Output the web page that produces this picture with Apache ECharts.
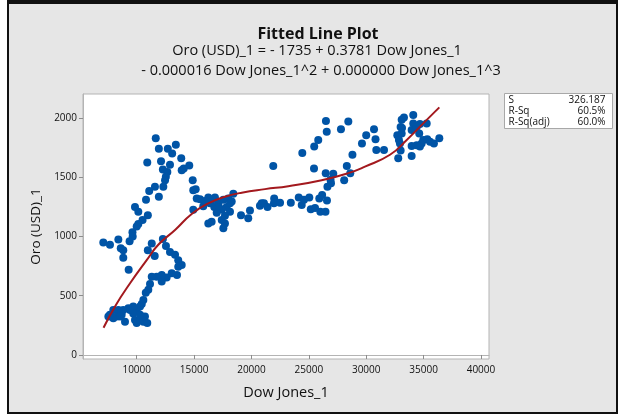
<!DOCTYPE html>
<html>
<head>
<meta charset="utf-8">
<title>Fitted Line Plot</title>
<script src="https://cdn.jsdelivr.net/npm/echarts@6/dist/echarts.min.js"></script>
<style>
  html, body { margin: 0; padding: 0; background: #fff; }
  #chart { width: 622px; height: 418px; }
</style>
</head>
<body>
<div id="chart"></div>
<script>
  // observed points: [Dow Jones_1, Oro (USD)_1]
  const points = [
    [11660, 1830], [11930, 1740], [12710, 1740], [13410, 1775], [13090, 1700], [13880, 1660],
    [14580, 1600], [14100, 1575], [10920, 1625], [12120, 1635], [12280, 1565], [12670, 1545],
    [12900, 1605], [12540, 1505], [12470, 1475], [14880, 1475], [14930, 1390], [15230, 1320],
    [12320, 1420], [11590, 1420], [11090, 1385], [11930, 1335], [10810, 1310], [9850, 1250],
    [10140, 1210], [10970, 1180], [10510, 1140], [10140, 1105], [10000, 1085], [9630, 1035],
    [9380, 960], [9650, 1000], [7090, 950], [7670, 930], [8400, 975], [8610, 900],
    [8830, 885], [8830, 820], [9300, 720], [12280, 980], [12550, 920], [11310, 940],
    [10970, 885], [11570, 835], [12900, 870], [13340, 845], [13620, 800], [13920, 760],
    [13620, 745], [13510, 675], [13050, 690], [12610, 655], [12180, 620], [12180, 675],
    [11740, 660], [11310, 660], [11160, 600], [11010, 550], [10790, 525], [10580, 465],
    [10440, 430], [10290, 410], [10000, 380], [9700, 410], [9270, 395], [8830, 380],
    [8400, 380], [7960, 380], [7670, 340], [8260, 325], [8690, 340], [8980, 280],
    [9700, 350], [9850, 295], [10000, 270], [10290, 295], [10580, 280], [10920, 270],
    [10720, 325], [10290, 340], [7530, 325], [7960, 310], [8550, 325], [9420, 380],
    [13920, 1560], [15140, 1400], [15520, 1315], [16240, 1330], [16820, 1330], [15800, 1255],
    [14930, 1225], [16390, 1280], [16760, 1250], [17110, 1280], [17550, 1310], [17980, 1320],
    [18420, 1360], [18280, 1295], [17840, 1250], [17410, 1225], [18130, 1210], [16970, 1200],
    [17690, 1175], [16530, 1125], [16240, 1110], [17690, 1110], [17550, 1070], [19090, 1180],
    [19870, 1220], [19720, 1155], [20890, 1280], [17410, 1140], [18130, 1280], [15950, 1300],
    [16560, 1310], [17170, 1250],
    [26490, 1975], [28440, 1970], [26560, 1885], [27800, 1905], [30680, 1905], [30000, 1855],
    [30810, 1820], [25820, 1815], [25470, 1760], [29630, 1785], [30880, 1730], [24430, 1705],
    [28800, 1690], [21900, 1595], [25450, 1575], [28310, 1595], [26470, 1535], [27130, 1530],
    [28610, 1535], [26890, 1480], [28080, 1475], [26930, 1450], [26620, 1420],
    [20740, 1260], [21090, 1280], [21400, 1250], [21980, 1320], [21960, 1280], [22490, 1285],
    [23430, 1285], [24120, 1330], [24380, 1265], [24580, 1310], [25040, 1330], [25170, 1230],
    [25540, 1240], [25910, 1320], [26160, 1350], [26580, 1305], [26000, 1210], [26450, 1210],
    [31550, 1730], [32790, 1660], [33000, 1725], [32940, 1785], [32710, 1855], [33090, 1870],
    [33000, 1925], [33090, 1985], [33290, 2005], [34100, 2025], [34100, 1955], [33960, 1900],
    [34400, 1925], [34680, 1950], [35270, 1955], [34620, 1870], [33960, 1765], [33960, 1680],
    [34400, 1770], [34830, 1785], [34970, 1815], [35320, 1820], [35560, 1800], [35900, 1785],
    [36370, 1830], [34680, 1760], [32850, 1815], [33120, 1915]
  ]

  // fitted cubic
  const fitted = [
    [7110, 230], [8110, 410], [9420, 605], [10870, 800], [11880, 930], [13340, 1055],
    [14790, 1190], [16240, 1280], [17690, 1335], [19150, 1370], [21180, 1400], [23210, 1425],
    [26120, 1475], [28440, 1535], [29890, 1590], [32070, 1690], [33530, 1815], [34970, 1955],
    [36370, 2090]
  ]

  const xTicks = [10000, 15000, 20000, 25000, 30000, 35000, 40000]
  const yTicks = [0, 500, 1000, 1500, 2000]

  const titleLines = [
    'Fitted Line Plot',
    'Oro (USD)_1 = - 1735 + 0.3781 Dow Jones_1',
    '- 0.000016 Dow Jones_1^2 + 0.000000 Dow Jones_1^3'
  ]
  const statNames = ['S', 'R-Sq', 'R-Sq(adj)']
  const statValues = ['326.187', '60.5%', '60.0%']

  const font = '"Open Sans", "Noto Sans", sans-serif'

  const chart = echarts.init(document.getElementById('chart'))

  const statsGroup = {
    type: 'group',
    left: 504,
    top: 93,
    children: [
      {
        type: 'rect',
        shape: { x: 0, y: 0, width: 108, height: 35 },
        style: { fill: '#fff', stroke: '#a8a8a8', lineWidth: 1 }
      }
    ]
  }
  statNames.forEach((name, i) => {
    statsGroup.children.push({
      type: 'text',
      x: 4,
      y: 7 + i * 11,
      style: { text: name, font: '10px ' + font, fill: '#111', verticalAlign: 'middle' }
    })
    statsGroup.children.push({
      type: 'text',
      x: 101,
      y: 7 + i * 11,
      style: { text: statValues[i], font: '10px ' + font, fill: '#111', align: 'right', verticalAlign: 'middle' }
    })
  })

  const option = {
    animation: false,
    backgroundColor: '#fff',
    graphic: [
      {
        type: 'rect',
        z: -10,
        shape: { x: 8, y: 3, width: 609, height: 410 },
        style: { fill: '#e6e6e6', stroke: '#111', lineWidth: 2 }
      },
      {
        type: 'rect',
        z: -9,
        shape: { x: 7, y: 0, width: 611, height: 4 },
        style: { fill: '#111' }
      },
      {
        type: 'text',
        x: 318,
        y: 34,
        style: { text: titleLines[0], font: 'bold 16px ' + font, fill: '#111', align: 'center', verticalAlign: 'middle' }
      },
      {
        type: 'text',
        x: 317,
        y: 51,
        style: { text: titleLines[1], font: '14.5px ' + font, fill: '#111', align: 'center', verticalAlign: 'middle' }
      },
      {
        type: 'text',
        x: 321,
        y: 71,
        style: { text: titleLines[2], font: '14.5px ' + font, fill: '#111', align: 'center', verticalAlign: 'middle' }
      },
      statsGroup
    ],
    grid: {
      left: 83,
      top: 94,
      width: 406,
      height: 265,
      show: true,
      backgroundColor: '#fff',
      borderColor: '#b4b4b4',
      borderWidth: 1
    },
    xAxis: {
      type: 'value',
      min: 5320,
      max: 40700,
      name: 'Dow Jones_1',
      nameLocation: 'middle',
      nameGap: 26,
      nameTextStyle: { fontFamily: font, fontSize: 14.5, color: '#111' },
      axisLine: { show: true, lineStyle: { color: '#b4b4b4' } },
      axisTick: { show: true, customValues: xTicks, length: 4, lineStyle: { color: '#8c8c8c' } },
      axisLabel: {
        customValues: xTicks,
        formatter: v => String(v),
        fontFamily: font,
        fontSize: 10,
        color: '#111',
        margin: 6
      },
      splitLine: { show: false }
    },
    yAxis: {
      type: 'value',
      min: -34,
      max: 2203,
      name: 'Oro (USD)_1',
      nameLocation: 'middle',
      nameGap: 37,
      nameTextStyle: { fontFamily: font, fontSize: 13.5, color: '#111' },
      axisLine: { show: true, lineStyle: { color: '#b4b4b4' } },
      axisTick: { show: true, customValues: yTicks, length: 4, lineStyle: { color: '#8c8c8c' } },
      axisLabel: {
        customValues: yTicks,
        formatter: v => String(v),
        fontFamily: font,
        fontSize: 10,
        color: '#111',
        margin: 6
      },
      splitLine: { show: false }
    },
    series: [
      {
        type: 'scatter',
        data: points,
        symbolSize: 8,
        itemStyle: { color: '#0054a6', opacity: 1 }
      },
      {
        type: 'line',
        data: fitted,
        smooth: true,
        showSymbol: false,
        z: 3,
        lineStyle: { color: '#a3191e', width: 2 }
      }
    ]
  }

  chart.setOption(option)
</script>
</body>
</html>
